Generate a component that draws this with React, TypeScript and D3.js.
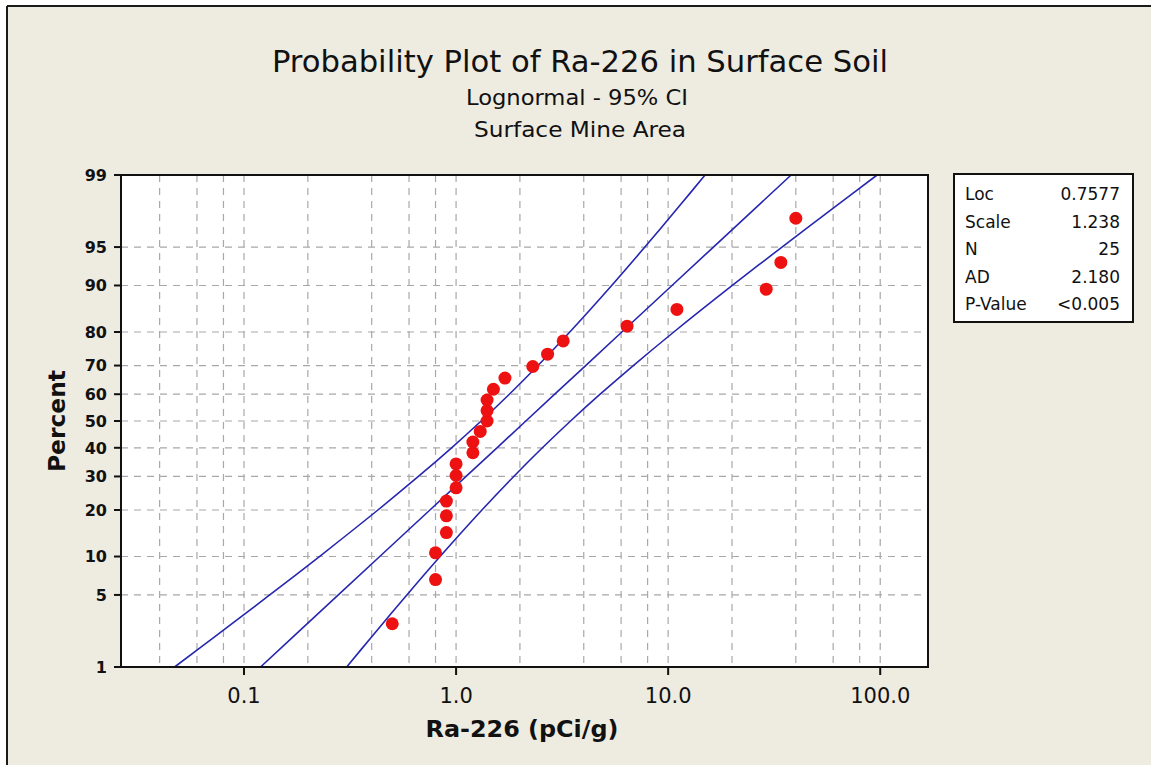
import React from "react";
import * as d3 from "d3";

// ---- Data ----
const RA226_VALUES = [0.5, 0.8, 0.8, 0.9, 0.9, 0.9, 1.0, 1.0, 1.0, 1.2, 1.2, 1.3, 1.4, 1.4, 1.4, 1.5, 1.7, 2.3, 2.7, 3.2, 6.4, 11, 29, 34, 40];
const RA226_PERCENTS = [2.76, 6.69, 10.63, 14.57, 18.5, 22.44, 26.38, 30.31, 34.25, 38.19, 42.13, 46.06, 50.0, 53.94, 57.87, 61.81, 65.75, 69.69, 73.62, 77.56, 81.5, 85.43, 89.37, 93.31, 97.24];

const CURVE_PERCENTS = [1, 2, 5, 10, 20, 30, 40, 50, 60, 70, 80, 90, 95, 98, 99];
const FIT_X = [0.1197, 0.1678, 0.2784, 0.4365, 0.7527, 1.1146, 1.5591, 2.1334, 2.9192, 4.0833, 6.0475, 10.426, 16.348, 27.12, 38.01];
const CI_LOWER_X = [0.04705, 0.07134, 0.1322, 0.2268, 0.4279, 0.6642, 0.9523, 1.3131, 1.7831, 2.4334, 3.438, 5.4164, 7.7655, 11.525, 14.932];
const CI_UPPER_X = [0.3048, 0.3949, 0.5861, 0.8403, 1.3238, 1.8704, 2.5526, 3.466, 4.7793, 6.8519, 10.637, 20.07, 34.42, 63.83, 96.72];

const Y_TICKS = [1, 5, 10, 20, 30, 40, 50, 60, 70, 80, 90, 95, 99];
const Y_GRID = [5, 10, 20, 30, 40, 50, 60, 70, 80, 90, 95];
const X_TICKS = [0.1, 1, 10, 100];
const X_TICK_LABELS = ["0.1", "1.0", "10.0", "100.0"];
const X_GRID = [0.04, 0.06, 0.08, 0.1, 0.2, 0.4, 0.6, 0.8, 1, 2, 4, 6, 8, 10, 20, 40, 60, 80, 100];
const X_DOMAIN = [0.0263, 168];

const LEGEND_LABELS = ["Loc", "Scale", "N", "AD", "P-Value"];
const LEGEND_VALUES = ["0.7577", "1.238", "25", "2.180", "<0.005"];

const TITLE = "Probability Plot of Ra-226 in Surface Soil";
const SUBTITLE1 = "Lognormal - 95% CI";
const SUBTITLE2 = "Surface Mine Area";
const X_LABEL = "Ra-226 (pCi/g)";
const Y_LABEL = "Percent";

// inverse standard normal CDF (Acklam)
function probit(p: number): number {
  const a = [-3.969683028665376e1, 2.209460984245205e2, -2.759285104469687e2, 1.38357751867269e2, -3.066479806614716e1, 2.506628277459239];
  const b = [-5.447609879822406e1, 1.615858368580409e2, -1.556989798598866e2, 6.680131188771972e1, -1.328068155288572e1];
  const c = [-7.784894002430293e-3, -3.223964580411365e-1, -2.400758277161838, -2.549732539343734, 4.374664141464968, 2.938163982698783];
  const d = [7.784695709041462e-3, 3.224671290700398e-1, 2.445134137142996, 3.754408661907416];
  const pl = 0.02425;
  if (p < pl) {
    const q = Math.sqrt(-2 * Math.log(p));
    return (((((c[0] * q + c[1]) * q + c[2]) * q + c[3]) * q + c[4]) * q + c[5]) / ((((d[0] * q + d[1]) * q + d[2]) * q + d[3]) * q + 1);
  }
  if (p > 1 - pl) {
    const q = Math.sqrt(-2 * Math.log(1 - p));
    return -(((((c[0] * q + c[1]) * q + c[2]) * q + c[3]) * q + c[4]) * q + c[5]) / ((((d[0] * q + d[1]) * q + d[2]) * q + d[3]) * q + 1);
  }
  const q = p - 0.5;
  const r = q * q;
  return ((((((a[0] * r + a[1]) * r + a[2]) * r + a[3]) * r + a[4]) * r + a[5]) * q) / (((((b[0] * r + b[1]) * r + b[2]) * r + b[3]) * r + b[4]) * r + 1);
}

export default function App() {
  const W = 1151, H = 765;
  const left = 121, right = 928, top = 175, bottom = 667;

  const x = d3.scaleLog().domain(X_DOMAIN).range([left, right]);
  const zScale = d3.scaleLinear().domain([probit(0.01), probit(0.99)]).range([bottom, top]);
  const y = (pct: number) => zScale(probit(pct / 100));

  const curve = (xs: number[], smooth: boolean) =>
    d3
      .line<number>()
      .x((v) => x(v))
      .y((_, i) => y(CURVE_PERCENTS[i]))
      .curve(smooth ? d3.curveCatmullRom : d3.curveLinear)(xs) || "";

  const font = "'DejaVu Sans', Verdana, sans-serif";
  const condFont = "'DejaVu Sans Condensed', 'DejaVu Sans', sans-serif";
  const gridColor = "#a8a8a8";
  const lineColor = "#2626b0";

  return (
    <svg width={W} height={H} style={{ position: "absolute", left: 0, top: 0, display: "block" }}>
      <rect x={0} y={0} width={W} height={H} fill="#ffffff" />
      <rect x={7} y={6} width={W - 7} height={H - 6} fill="#eeebe1" />
      <line x1={7} y1={6} x2={W} y2={6} stroke="#1a1a1a" strokeWidth={2} />
      <line x1={7} y1={6} x2={7} y2={H} stroke="#1a1a1a" strokeWidth={2} />

      {/* titles */}
      <text x={580} y={72} textAnchor="middle" fontFamily={condFont} fontSize={31} fill="#111" textLength={616} lengthAdjust="spacingAndGlyphs">
        {TITLE}
      </text>
      <text x={577} y={105} textAnchor="middle" fontFamily={condFont} fontSize={22} fill="#111" textLength={222} lengthAdjust="spacingAndGlyphs">
        {SUBTITLE1}
      </text>
      <text x={580} y={137} textAnchor="middle" fontFamily={condFont} fontSize={22} fill="#111" textLength={212} lengthAdjust="spacingAndGlyphs">
        {SUBTITLE2}
      </text>

      {/* plot area */}
      <rect x={left} y={top} width={right - left} height={bottom - top} fill="#ffffff" />

      {/* grid */}
      <g stroke={gridColor} strokeWidth={1.2} strokeDasharray="7,6">
        {Y_GRID.map((p) => (
          <line key={"hy" + p} x1={left} x2={right} y1={y(p)} y2={y(p)} />
        ))}
        {X_GRID.map((v) => (
          <line key={"vx" + v} x1={x(v)} x2={x(v)} y1={top} y2={bottom} />
        ))}
      </g>

      {/* curves */}
      <g fill="none" stroke={lineColor} strokeWidth={1.6}>
        <path d={curve(CI_LOWER_X, true)} />
        <path d={curve(FIT_X, false)} />
        <path d={curve(CI_UPPER_X, true)} />
      </g>

      {/* points */}
      <g fill="#ee1111">
        {RA226_VALUES.map((v, i) => (
          <circle key={i} cx={x(v)} cy={y(RA226_PERCENTS[i])} r={6.5} />
        ))}
      </g>

      {/* frame */}
      <rect x={left} y={top} width={right - left} height={bottom - top} fill="none" stroke="#111" strokeWidth={2} />

      {/* y axis ticks */}
      <g>
        {Y_TICKS.map((p) => (
          <g key={"yt" + p}>
            <line x1={left - 7} x2={left} y1={y(p)} y2={y(p)} stroke="#111" strokeWidth={2} />
            <text x={107} y={y(p)} dy="0.36em" textAnchor="end" fontFamily={font} fontWeight="bold" fontSize={16} fill="#111">
              {p}
            </text>
          </g>
        ))}
      </g>

      {/* x axis ticks */}
      <g>
        {X_TICKS.map((v, i) => (
          <g key={"xt" + v}>
            <line x1={x(v)} x2={x(v)} y1={bottom} y2={bottom + 8} stroke="#111" strokeWidth={2} />
            <text x={x(v)} y={703} textAnchor="middle" fontFamily={font} fontSize={21} fill="#111">
              {X_TICK_LABELS[i]}
            </text>
          </g>
        ))}
      </g>

      {/* axis labels */}
      <text x={522} y={737} textAnchor="middle" fontFamily={font} fontWeight="bold" fontSize={23} fill="#111" textLength={193} lengthAdjust="spacingAndGlyphs">
        {X_LABEL}
      </text>
      <text transform={`translate(65, 421) rotate(-90)`} textAnchor="middle" fontFamily={font} fontWeight="bold" fontSize={23} fill="#111" textLength={102} lengthAdjust="spacingAndGlyphs">
        {Y_LABEL}
      </text>

      {/* legend */}
      <rect x={954} y={174} width={179} height={148} fill="#ffffff" stroke="#111" strokeWidth={2} />
      {LEGEND_LABELS.map((lab, i) => (
        <g key={"lg" + i}>
          <text x={965} y={200 + i * 27.5} fontFamily={font} fontSize={17} fill="#111">
            {lab}
          </text>
          <text x={1120} y={200 + i * 27.5} textAnchor="end" fontFamily={font} fontSize={17} fill="#111">
            {LEGEND_VALUES[i]}
          </text>
        </g>
      ))}
    </svg>
  );
}
